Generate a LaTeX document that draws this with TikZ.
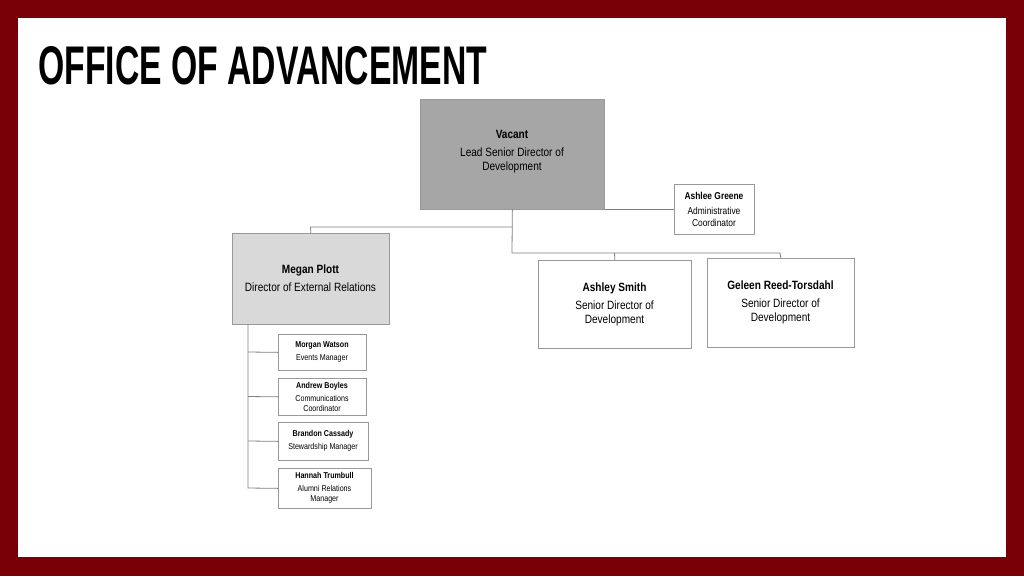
\documentclass[tikz,border=0pt]{standalone}
\usepackage{fontspec}
\setmainfont{Liberation Sans}
\newfontfamily\narrow[FakeStretch=0.84]{Liberation Sans}
\begin{document}
\begin{tikzpicture}[x=1pt,y=-1pt,
  box/.style={draw=gray!80,line width=0.7pt,fill=white,inner sep=0pt,font=\narrow,align=center,anchor=north west},
  conn/.style={draw=gray,line width=0.8pt},
  big/.style={font=\narrow\fontsize{12}{14}\selectfont},
  small/.style={font=\narrow\fontsize{8.5}{10}\selectfont}]
\fill[fill={rgb,255:red,122;green,0;blue,8}] (0,0) rectangle (1024,576);
\fill[white] (18,18) rectangle (1006,557);
\node[anchor=west,inner sep=0pt] (title) at (38,66) {\resizebox{449pt}{38pt}{\bfseries OFFICE OF ADVANCEMENT}};
\node[box,big,fill={rgb,255:red,166;green,166;blue,166},minimum width=184pt,minimum height=110pt] (vac) at (420,99) {};
\node[big,align=center] at (512,152) {\textbf{Vacant}\\[4pt]Lead Senior Director of\\Development};
\node[box,minimum width=80pt,minimum height=50pt] (ash) at (674,184) {};
\node[font=\narrow\fontsize{10}{12}\selectfont,align=center] at (714,209) {\textbf{Ashlee Greene}\\[3pt]Administrative\\Coordinator};
\node[box,fill={rgb,255:red,217;green,217;blue,217},minimum width=157pt,minimum height=91pt] (meg) at (232,233) {};
\node[big,align=center] at (310.5,278) {\textbf{Megan Plott}\\[4pt]Director of External Relations};
\node[box,minimum width=153pt,minimum height=88pt] (smith) at (538,260) {};
\node[big,align=center] at (614.5,304) {\textbf{Ashley Smith}\\[4pt]Senior Director of\\Development};
\node[box,minimum width=147pt,minimum height=89pt] (gel) at (707,258) {};
\node[big,align=center] at (780.5,302) {\textbf{Geleen Reed-Torsdahl}\\[4pt]Senior Director of\\Development};
\node[box,minimum width=88pt,minimum height=36pt] (mw) at (278,334) {};
\node[small,align=center] at (322,352) {\textbf{Morgan Watson}\\[3pt]Events Manager};
\node[box,minimum width=88pt,minimum height=37pt] (ab) at (278,378) {};
\node[small,align=center] at (322,396.5) {\textbf{Andrew Boyles}\\[3pt]Communications\\Coordinator};
\node[box,minimum width=90pt,minimum height=38pt] (bc) at (278,422) {};
\node[small,align=center] at (323,441) {\textbf{Brandon Cassady}\\[3pt]Stewardship Manager};
\node[box,minimum width=93pt,minimum height=40pt] (ht) at (278,468) {};
\node[small,align=center] at (324.5,488) {\textbf{Hannah Trumbull}\\[3pt]Alumni Relations\\Manager};
\draw[conn] (vac.south east) -- (ash.west |- vac.south east);
\draw[conn] (vac.south) -- (512,253) -- (780,253) -- (gel.north);
\draw[conn] (614.5,253) -- (smith.north);
\draw[conn] (512,227) -- (310.5,227) -- (meg.north);
\coordinate (mb) at (248,324);
\draw[conn] (mb) -- (248,488) -- (ht.west);
\draw[conn] (248,352) -- (mw.west);
\draw[conn] (248,396.5) -- (ab.west);
\draw[conn] (248,441) -- (bc.west);
\end{tikzpicture}
\end{document}
